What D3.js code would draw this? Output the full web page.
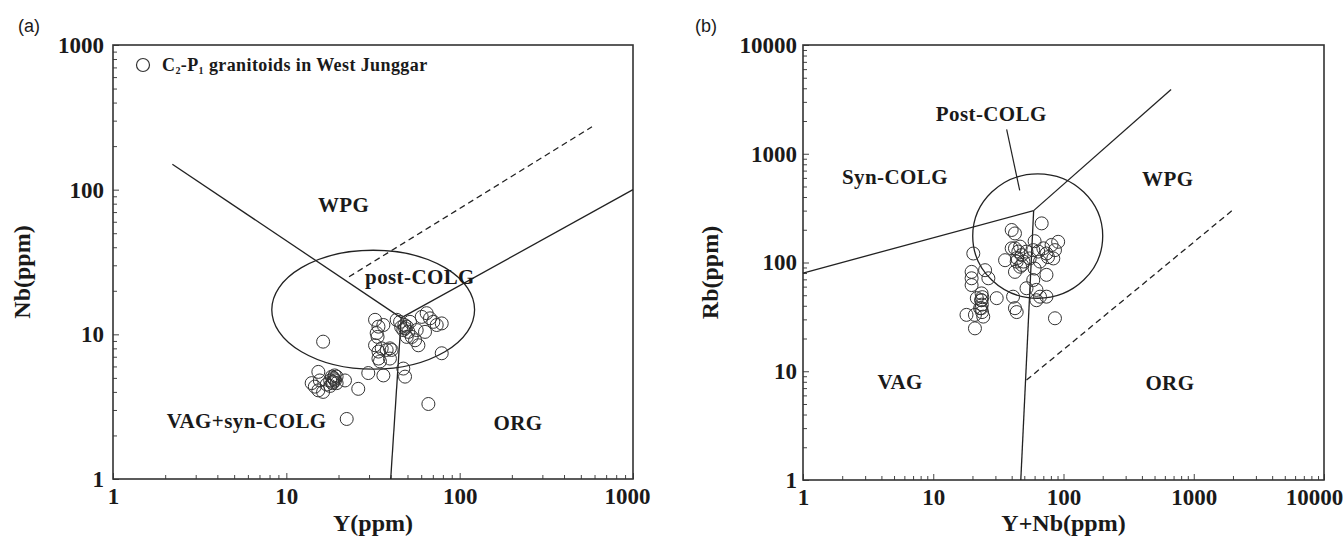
<!DOCTYPE html>
<html>
<head>
<meta charset="utf-8">
<script src="https://cdn.jsdelivr.net/npm/d3@7"></script>
<style>
  body { margin: 0; background: #fff; }
  svg text { font-family: "Liberation Serif", "Times New Roman", serif; font-weight: bold; fill: #1a1a1a; }
  .panel-tag { font-family: "Liberation Sans", Arial, sans-serif !important; font-weight: normal !important; }
</style>
</head>
<body>
<svg id="chart" width="1344" height="540"></svg>
<script>

// ---- panel (a): Nb vs Y ----
var a_y = [48.4, 47.3, 49.5, 50.6, 45.3, 51.7, 52.9, 55.3, 56.5, 60.4, 64.5, 67.4, 63.1, 70.5, 73.7, 78.8, 57.8, 49.5, 48, 46, 43.3,
  32.5, 34.0, 36.3, 33.2, 33.6, 32.5, 34.0, 35.5, 37.9, 39.6, 40.5, 39.6, 34.0, 34.7, 16.3,
  29.7, 36.3, 47.3, 48.4, 78.8, 66.0, 22.3, 26.0, 21.8,
  18.7, 18.3, 19.1, 18.5, 19.5, 17.9, 17.1, 15.6, 14.6, 15.3, 16.3, 14.0, 15.3, 17.9, 19.5, 18.9, 19.0, 18.6];
var a_nb = [11.0, 10.7, 11.3, 10.4, 12.2, 12.2, 9.6, 9.1, 10.7, 13.2, 14.0, 12.9, 10.4, 12.2, 11.6, 11.9, 8.4, 9.6, 11.6, 11.2, 12.6,
  12.6, 11.3, 11.6, 10.2, 9.6, 8.4, 7.6, 8.0, 7.8, 8.0, 7.8, 6.8, 6.8, 6.5, 8.9,
  5.4, 5.2, 5.8, 5.1, 7.4, 3.3, 2.6, 4.2, 4.8,
  5.0, 5.1, 4.8, 4.6, 5.1, 4.8, 4.5, 4.8, 4.35, 4.1, 4.0, 4.6, 5.5, 4.4, 4.6, 4.9, 5.2, 4.7];

var a_lines = [
  [[2.2, 150], [46, 13]],
  [[46, 13], [1000, 100]],
  [[46, 13], [40, 1]]
];
var a_dashed = [[23, 25], [580, 272]];
// post-COLG field: centre and half-widths in decades
var a_field = {cx: 31.7, cy: 14.8, rx: 0.585, ry: 0.411};
var a_labels = ["WPG", "post-COLG", "VAG+syn-COLG", "ORG"];
var a_label_pos = [[21.4, 78.6], [59, 25], [5.9, 2.55], [217, 2.47]];

// ---- panel (b): Rb vs Y+Nb ----
var b_ynb = [40, 42.4, 68, 20.3, 25, 19.7, 19.7, 19.7, 26.5, 35.6,
  45, 47.7, 43.7, 46.4, 42.4, 49.2,
  58.6, 64, 70, 74, 81, 86, 91, 83.5, 66, 60, 74, 58.6, 62, 52, 66, 74, 62, 86, 41, 42.4, 43.7, 30.7, 21.6, 23.5, 22.9, 20.9, 18, 20.9, 24.2,
  23.5, 23.8, 23.3, 23.6, 23.4, 23.7,
  40, 42.4, 46.4, 52, 55, 60, 76, 44, 48];
var b_rb = [199, 185, 229, 121, 85, 82, 71.6, 62, 71.6, 105,
  126, 117, 102, 91.5, 82, 102,
  130, 126, 135, 121, 145, 130, 155, 109, 102, 88, 77, 69, 56, 58, 48.5, 48.5, 45, 30.7, 48.5, 38, 35, 47, 47, 45, 38, 33, 33, 24.8, 31.8,
  52, 48, 45, 41, 38, 35,
  135, 135, 140, 126, 109, 157, 112, 110, 95];

var b_lines = [
  [[1, 80], [59, 300]],
  [[59, 300], [670, 3900]],
  [[59, 300], [47, 1]]
];
var b_dashed = [[52, 8.3], [2000, 305]];
var b_field = {cx: 63.4, cy: 175, rx: 0.499, ry: 0.572};
var b_leader = [[36.6, 1675], [46.1, 460]];
var b_labels = ["Post-COLG", "Syn-COLG", "WPG", "VAG", "ORG"];
var b_label_pos = [[27.9, 2327], [5.08, 617], [631, 590], [5.57, 8.0], [656, 7.9]];

var svg = d3.select("#chart");

function draw_panel(opt) {

  var x = d3.scaleLog().domain(opt.domain).range([opt.left, opt.left + opt.width]);
  var y = d3.scaleLog().domain(opt.domain).range([opt.top + opt.height, opt.top]);

  var g = svg.append("g");

  var decades = [], minors = [];
  for (var v = opt.domain[0]; v <= opt.domain[1]; v *= 10) {
    decades.push(v);
    if (v < opt.domain[1]) for (var k = 2; k <= 9; k++) minors.push(v * k);
  }

  //Ticks point inside the frame
  g.append("g").attr("transform", "translate(0," + (opt.top + opt.height) + ")")
    .call(d3.axisBottom(x).tickValues(minors).tickSize(-4).tickFormat(""));
  g.append("g").attr("transform", "translate(" + opt.left + ",0)")
    .call(d3.axisLeft(y).tickValues(minors).tickSize(-4).tickFormat(""));
  var xMajor = g.append("g").attr("transform", "translate(0," + (opt.top + opt.height) + ")")
    .call(d3.axisBottom(x).tickValues(decades).tickSize(-6).tickPadding(9).tickFormat(d3.format("d")));
  g.append("g").attr("transform", "translate(" + opt.left + ",0)")
    .call(d3.axisLeft(y).tickValues(decades).tickSize(-6).tickPadding(opt.ypad).tickFormat(d3.format("d")));

  g.selectAll(".domain").remove();
  g.selectAll(".tick line").attr("stroke", "#444").attr("stroke-width", 1);
  g.selectAll(".tick text").attr("fill", "#1a1a1a").style("font-size", "23px")
    .style("font-family", "'Liberation Serif', 'Times New Roman', serif").style("font-weight", "bold");

  //last x label sits a little left of its tick, as in the original
  xMajor.selectAll(".tick text").filter(function(d) { return d === opt.domain[1]; })
    .attr("dx", -opt.last_shift);

  g.append("rect")
    .attr("x", opt.left).attr("y", opt.top)
    .attr("width", opt.width).attr("height", opt.height)
    .attr("fill", "none").attr("stroke", "#333").attr("stroke-width", 1.6);

  var line = d3.line().x(function(d) { return x(d[0]); }).y(function(d) { return y(d[1]); });

  g.selectAll(".bound").data(opt.lines).enter().append("path")
    .attr("class", "bound")
    .attr("d", line)
    .attr("fill", "none").attr("stroke", "#222").attr("stroke-width", 1.3);

  g.append("path").attr("d", line(opt.dashed))
    .attr("fill", "none").attr("stroke", "#222").attr("stroke-width", 1.3)
    .attr("stroke-dasharray", "6,4");

  if (opt.leader) {
    g.append("path").attr("d", line(opt.leader))
      .attr("fill", "none").attr("stroke", "#222").attr("stroke-width", 1.2);
  }

  var f = opt.field;
  g.append("ellipse")
    .attr("cx", x(f.cx)).attr("cy", y(f.cy))
    .attr("rx", x(f.cx * Math.pow(10, f.rx)) - x(f.cx))
    .attr("ry", y(f.cy) - y(f.cy * Math.pow(10, f.ry)))
    .attr("fill", "none").attr("stroke", "#222").attr("stroke-width", 1.3);

  g.selectAll(".pt").data(opt.xs).enter().append("circle")
    .attr("class", "pt")
    .attr("cx", function(d) { return x(d); })
    .attr("cy", function(d, i) { return y(opt.ys[i]); })
    .attr("r", 6.5)
    .attr("fill", "none").attr("stroke", "#333").attr("stroke-width", 1);

  g.selectAll(".region").data(opt.labels).enter().append("text")
    .attr("class", "region")
    .attr("x", function(d, i) { return x(opt.label_pos[i][0]); })
    .attr("y", function(d, i) { return y(opt.label_pos[i][1]); })
    .attr("dy", "0.35em")
    .style("text-anchor", "middle")
    .style("font-size", "21px")
    .style("letter-spacing", "0.4px")
    .text(function(d) { return d; });

  //Axis titles
  g.append("text")
    .attr("x", opt.left + opt.width / 2).attr("y", 531)
    .style("text-anchor", "middle").style("font-size", "24px")
    .text(opt.xtitle);

  g.append("text")
    .attr("transform", "translate(" + opt.ytitle_x + "," + (opt.top + opt.height / 2 + 10) + ") rotate(-90)")
    .style("text-anchor", "middle").style("font-size", "24px")
    .text(opt.ytitle);

  g.append("text").attr("class", "panel-tag")
    .attr("x", opt.tag_x).attr("y", 32)
    .style("font-size", "18px")
    .text(opt.tag);

  return {g: g, x: x, y: y};
}

var pa = draw_panel({
  left: 113, top: 45, width: 520, height: 434, domain: [1, 1000], ypad: 9, last_shift: 6,
  xs: a_y, ys: a_nb, lines: a_lines, dashed: a_dashed, field: a_field,
  labels: a_labels, label_pos: a_label_pos,
  xtitle: "Y(ppm)", ytitle: "Nb(ppm)", ytitle_x: 30, tag: "(a)", tag_x: 18
});

var pb = draw_panel({
  left: 803, top: 45, width: 521, height: 435, domain: [1, 10000], ypad: 6, last_shift: 10,
  xs: b_ynb, ys: b_rb, lines: b_lines, dashed: b_dashed, field: b_field, leader: b_leader,
  labels: b_labels, label_pos: b_label_pos,
  xtitle: "Y+Nb(ppm)", ytitle: "Rb(ppm)", ytitle_x: 718, tag: "(b)", tag_x: 695
});

//Legend in panel (a)
pa.g.append("circle").attr("cx", 143).attr("cy", 65).attr("r", 6.5)
  .attr("fill", "none").attr("stroke", "#333").attr("stroke-width", 1.2);

var leg = pa.g.append("text").attr("x", 162).attr("y", 71)
  .style("font-size", "18px").style("letter-spacing", "0.4px");
leg.append("tspan").text("C");
leg.append("tspan").attr("dy", 3).style("font-size", "10px").text("2");
leg.append("tspan").attr("dy", -3).text("-P");
leg.append("tspan").attr("dy", 3).style("font-size", "10px").text("1");
leg.append("tspan").attr("dy", -3).text(" granitoids in West Junggar");

</script>
</body>
</html>
